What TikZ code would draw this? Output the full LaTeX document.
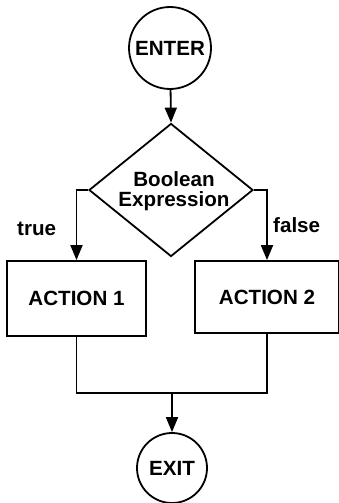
\documentclass[tikz,border=0pt]{standalone}
\usepackage{fontspec}
\setmainfont{Liberation Sans}
\usetikzlibrary{shapes.geometric,arrows.meta}
\begin{document}
\begin{tikzpicture}[x=1pt,y=-1pt,
  every node/.style={font=\bfseries\fontsize{20.6}{20}\selectfont},
  term/.style={circle,draw,line width=1.8pt,inner sep=0pt},
  decision/.style={diamond,draw,line width=1.8pt,inner sep=0pt,
    minimum width=164pt,minimum height=133pt},
  actionbox/.style={rectangle,draw,line width=1.8pt,inner sep=0pt},
  link/.style={line width=1.8pt},
  flow/.style={link,-{Triangle[width=12pt,length=15pt]}},
  lbl/.style={inner sep=0pt,anchor=base west}]
\useasboundingbox (0,0) rectangle (338,503);

% terminals
\node[term,minimum size=82pt] (enter) at (170,48) {ENTER};
\node[term,minimum size=70pt] (exit) at (172,468) {EXIT};

% decision: empty diamond with its two-line caption set on top
\node[decision] (dec) at (171,190) {};
\node[align=center,inner sep=0pt] (dectext) at (174,191) {Boolean\\Expression};

% actions
\node[actionbox,minimum width=139pt,minimum height=75pt] (act1) at (76.5,298.5) {ACTION 1};
\node[actionbox,minimum width=144pt,minimum height=72pt] (act2) at (267,297) {ACTION 2};

% branch labels
\node[lbl] (true) at (17,235) {true};
\node[lbl] (false) at (273,232) {false};

% connectors
\coordinate (merge) at (172,393);
\draw[flow] (enter) -- (dec.north);
\draw[flow] (dec.west) -| (act1.north);
\draw[flow] (dec.east) -| (act2.north);
\draw[link] (act1.south) |- (merge) -| (act2.south);
\draw[flow] (merge) -- (exit.north);
\end{tikzpicture}
\end{document}
